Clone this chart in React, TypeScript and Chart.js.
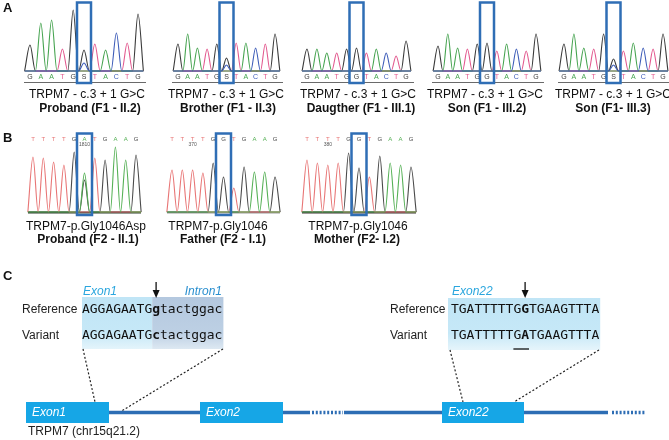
import React, { useEffect, useRef } from "react";
import { Chart, registerables } from "chart.js";
Chart.register(...registerables);

// ---------------- DATA ----------------
// Panel A: Sanger traces around TRPM7 c.3+1 G>C (S = G/C heterozygous)
const A_BASES = ["GAATGSTACTG", "GAATGSTACTG", "GAATGGTACTG", "GAATGGTACTG", "GAATGSTACTG"];
const A_PEAKS = [
  [26, 48, 51, 22, 61, 21, 27, 21, 38, 28, 57],
  [27, 37, 23, 22, 27, 13, 28, 28, 23, 27, 37],
  [22, 22, 18, 18, 22, 23, 18, 22, 18, 15, 30],
  [25, 37, 23, 22, 27, 28, 20, 27, 22, 20, 37],
  [27, 37, 23, 22, 37, 12, 20, 28, 23, 22, 37],
];
const A_SECOND_PEAK = [8, 6, 0, 0, 6]; // C component under the boxed S
const A_TITLES = ["TRPM7 - c.3 + 1 G>C", "TRPM7 - c.3 + 1 G>C", "TRPM7 - c.3 + 1 G>C", "TRPM7 - c.3 + 1 G>C", "TRPM7 - c.3 + 1 G>C"];
const A_NAMES = ["Proband (F1 - II.2)", "Brother (F1 - II.3)", "Daugther (F1 - III.1)", "Son (F1 - III.2)", "Son (F1- III.3)"];
const A_BOXED = [5, 5, 5, 5, 5];

// Panel B: TRPM7 p.Gly1046Asp (R = A/G heterozygous)
const B_BASES = ["TTTTGRTGAAG", "TTTTGGTGAAG", "TTTTGGTGAAG"];
const B_LETTERS = ["TTTTGATGAAG", "TTTTGGTGAAG", "TTTTGGTGAAG"];
const B_PEAKS = [
  [55, 54, 50, 47, 60, 39, 54, 52, 65, 52, 57],
  [42, 42, 42, 39, 49, 35, 24, 45, 40, 40, 35],
  [52, 49, 47, 49, 59, 44, 35, 56, 49, 47, 45],
];
const B_SECOND_PEAK = [32, 0, 0]; // G component under the boxed R
const B_POSITION_LABELS = ["1810", "370", "380"];
const B_POSITION_INDEX = [5, 2, 2];
const B_TITLES = ["TRPM7-p.Gly1046Asp", "TRPM7-p.Gly1046", "TRPM7-p.Gly1046"];
const B_NAMES = ["Proband (F2 - II.1)", "Father (F2 - I.1)", "Mother (F2- I.2)"];
const B_BOXED = [5, 5, 5];

// Panel C: sequences and gene model
const SEQ1_REF = "AGGAGAATGgtactggac";
const SEQ1_VAR = "AGGAGAATGctactggac";
const SEQ1_EXON_LEN = 9;
const SEQ2_REF = "TGATTTTTGGTGAAGTTTA";
const SEQ2_VAR = "TGATTTTTGATGAAGTTTA";
const MUT_INDEX = 9;
const EXON_NAMES = ["Exon1", "Exon2", "Exon22"];
const GENE_LABEL = "TRPM7 (chr15q21.2)";

// ---------------- LAYOUT / STYLE ----------------
const W = 669, H = 440;
const SANS = '"Liberation Sans", Arial, sans-serif';
const MONO = '"DejaVu Sans Mono", monospace';
const A_LAYOUT = [
  { x0: 30, step: 10.8, title: 87, name: 90 },
  { x0: 178, step: 9.7, title: 226, name: 228 },
  { x0: 307, step: 9.9, title: 358, name: 361 },
  { x0: 438, step: 9.8, title: 485, name: 487 },
  { x0: 564, step: 9.9, title: 613, name: 613 },
];
const A_BASE_Y = 71;
const B_LAYOUT = [
  { x0: 33, step: 10.3, title: 86, name: 88, base: "#2c3d2c" },
  { x0: 172, step: 10.3, title: 218, name: 223, base: "#9a9a9a" },
  { x0: 307, step: 10.4, title: 358, name: 357, base: "#3a3030" },
];
const B_BASE_Y = 212;
const A_COLORS: Record<string, string> = { G: "#3a3a3a", A: "#45a34f", T: "#e2588e", C: "#3d5cb8", S: "#3a3a3a" };
const B_COLORS: Record<string, string> = { G: "#4a4a4a", A: "#55b055", T: "#e87575", C: "#3d5cb8", R: "#55b055" };
const BOX_BLUE = "#2f6eb5";
const PRIMARY: Record<string, string> = { S: "G", R: "A" };
const SECONDARY: Record<string, string> = { S: "C", R: "G" };

function traceDatasets(bases: string, peaks: number[], second: number, x0: number, step: number, baseY: number, colors: Record<string, string>) {
  const n = bases.length;
  const chans: Record<string, number[]> = { A: [], C: [], G: [], T: [] };
  for (const c of Object.keys(chans)) for (let i = 0; i < n; i++) chans[c][i] = 0;
  for (let i = 0; i < n; i++) {
    const b = bases[i];
    const p = PRIMARY[b] || b;
    chans[p][i] = peaks[i];
    if (SECONDARY[b] && second > 0) chans[SECONDARY[b]][i] = second;
  }
  const out: any[] = [];
  for (const c of ["C", "A", "T", "G"]) {
    if (!chans[c].some((v) => v > 0)) continue;
    const data: { x: number; y: number }[] = [];
    for (let k = -1; k <= 2 * n - 1; k++) {
      const pos = k / 2;
      const h = k % 2 === 0 && k >= 0 ? chans[c][pos] : 0;
      data.push({ x: x0 + pos * step, y: baseY - h });
    }
    out.push({
      data,
      borderColor: colors[c],
      borderWidth: 1.1,
      pointRadius: 0,
      fill: false,
      cubicInterpolationMode: "monotone",
    });
  }
  return out;
}

function buildDatasets() {
  const ds: any[] = [];
  A_BASES.forEach((b, i) => {
    const L = A_LAYOUT[i];
    ds.push(...traceDatasets(b, A_PEAKS[i], A_SECOND_PEAK[i], L.x0, L.step, A_BASE_Y, A_COLORS));
  });
  B_BASES.forEach((b, i) => {
    const L = B_LAYOUT[i];
    ds.push(...traceDatasets(b, B_PEAKS[i], B_SECOND_PEAK[i], L.x0, L.step, B_BASE_Y, B_COLORS));
  });
  return ds;
}

const decorPlugin = {
  id: "decor",
  beforeDatasetsDraw(chart: any) {
    const ctx = chart.ctx as CanvasRenderingContext2D;
    const X = (v: number) => chart.scales.x.getPixelForValue(v);
    const Y = (v: number) => chart.scales.y.getPixelForValue(v);
    ctx.save();
    // sequence backgrounds
    const cw = 7.8;
    const s1 = 82, s2 = 451;
    const g1 = ctx.createLinearGradient(0, Y(297), 0, Y(349));
    g1.addColorStop(0, "#c0e5f6");
    g1.addColorStop(0.7, "#c6e8f7");
    g1.addColorStop(1, "#e4f4fb");
    ctx.fillStyle = g1;
    ctx.fillRect(X(s1), Y(297), X(s1 + SEQ1_EXON_LEN * cw) - X(s1), Y(349) - Y(297));
    const g2 = ctx.createLinearGradient(0, Y(297), 0, Y(349));
    g2.addColorStop(0, "#b4c8df");
    g2.addColorStop(0.7, "#bdd0e4");
    g2.addColorStop(1, "#dde8f2");
    ctx.fillStyle = g2;
    ctx.fillRect(X(s1 + SEQ1_EXON_LEN * cw), Y(297), X(s1 + SEQ1_REF.length * cw + 1) - X(s1 + SEQ1_EXON_LEN * cw), Y(349) - Y(297));
    ctx.fillStyle = g1;
    ctx.fillRect(X(s2 - 3), Y(298), X(s2 + SEQ2_REF.length * cw + 1) - X(s2 - 3), Y(350) - Y(298));
    // baselines under A traces
    ctx.strokeStyle = "#6a6a6a";
    ctx.lineWidth = 1;
    A_LAYOUT.forEach((L, i) => {
      const n = A_BASES[i].length;
      ctx.beginPath();
      ctx.moveTo(X(L.x0 - 6), Y(82.5));
      ctx.lineTo(X(L.x0 + (n - 1) * L.step + 8), Y(82.5));
      ctx.stroke();
    });
    // baselines under B traces
    ctx.lineWidth = 2;
    B_LAYOUT.forEach((L, i) => {
      const n = B_BASES[i].length;
      ctx.strokeStyle = L.base;
      ctx.beginPath();
      ctx.moveTo(X(L.x0 - 5), Y(B_BASE_Y + 0.5));
      ctx.lineTo(X(L.x0 + (n - 1) * L.step + 5), Y(B_BASE_Y + 0.5));
      ctx.stroke();
    });
    ctx.restore();
  },
  afterDatasetsDraw(chart: any) {
    const ctx = chart.ctx as CanvasRenderingContext2D;
    const X = (v: number) => chart.scales.x.getPixelForValue(v);
    const Y = (v: number) => chart.scales.y.getPixelForValue(v);
    const text = (s: string, x: number, y: number, font: string, color: string, align: CanvasTextAlign = "left") => {
      ctx.font = font;
      ctx.fillStyle = color;
      ctx.textAlign = align;
      ctx.textBaseline = "middle";
      ctx.fillText(s, X(x), Y(y));
    };
    ctx.save();
    // panel letters
    text("A", 3, 8, `bold 13px ${SANS}`, "#111");
    text("B", 3, 138, `bold 13px ${SANS}`, "#111");
    text("C", 3, 276, `bold 13px ${SANS}`, "#111");

    // Panel A letters, boxes, captions
    A_LAYOUT.forEach((L, i) => {
      const b = A_BASES[i];
      for (let k = 0; k < b.length; k++) {
        text(b[k], L.x0 + k * L.step, 77.5, `7px ${SANS}`, A_COLORS[b[k]], "center");
      }
      const cx = L.x0 + A_BOXED[i] * L.step;
      ctx.strokeStyle = BOX_BLUE;
      ctx.lineWidth = 2.5;
      ctx.strokeRect(X(cx - 7), Y(2.5), X(cx + 7) - X(cx - 7), Y(83) - Y(2.5));
      text(A_TITLES[i], L.title, 95, `12px ${SANS}`, "#111", "center");
      text(A_NAMES[i], L.name, 109, `bold 12px ${SANS}`, "#111", "center");
    });

    // Panel B letters, boxes, captions
    B_LAYOUT.forEach((L, i) => {
      const b = B_LETTERS[i];
      for (let k = 0; k < b.length; k++) {
        const x = L.x0 + k * L.step;
        text(b[k], x, 139.5, `6px ${SANS}`, B_COLORS[b[k]], "center");
      }
      text(B_POSITION_LABELS[i], L.x0 + B_POSITION_INDEX[i] * L.step, 144.5, `5px ${SANS}`, "#555", "center");
      const cx = L.x0 + B_BOXED[i] * L.step;
      ctx.strokeStyle = BOX_BLUE;
      ctx.lineWidth = 2.5;
      ctx.strokeRect(X(cx - 7.5), Y(133.5), X(cx + 7.5) - X(cx - 7.5), Y(215) - Y(133.5));
      text(B_TITLES[i], L.title, 227, `12px ${SANS}`, "#111", "center");
      text(B_NAMES[i], L.name, 240, `bold 12px ${SANS}`, "#111", "center");
    });

    // Panel C sequences
    const cw = 7.8;
    const drawSeq = (seq: string, x0: number, y: number) => {
      for (let k = 0; k < seq.length; k++) {
        const bold = k === MUT_INDEX;
        text(seq[k], x0 + k * cw + cw / 2, y, `${bold ? "bold " : ""}13px ${MONO}`, "#111", "center");
      }
    };
    text("Reference", 22, 309.5, `12px ${SANS}`, "#222");
    text("Variant", 22, 335.5, `12px ${SANS}`, "#222");
    drawSeq(SEQ1_REF, 82, 309.5);
    drawSeq(SEQ1_VAR, 82, 335.5);
    text("Reference", 390, 309.5, `12px ${SANS}`, "#222");
    text("Variant", 390, 335.5, `12px ${SANS}`, "#222");
    drawSeq(SEQ2_REF, 451, 309.5);
    drawSeq(SEQ2_VAR, 451, 335.5);
    text("Exon1", 83, 292, `italic 12px ${SANS}`, "#2aa6de");
    text("Intron1", 222, 292, `italic 12px ${SANS}`, "#2a8fcf", "right");
    text("Exon22", 452, 292, `italic 12px ${SANS}`, "#2aa6de");
    // underline in variant 2
    ctx.strokeStyle = "#111";
    ctx.lineWidth = 1.3;
    ctx.beginPath();
    ctx.moveTo(X(451 + 8 * cw), Y(349));
    ctx.lineTo(X(451 + 10 * cw), Y(349));
    ctx.stroke();
    // arrows
    const arrow = (x: number) => {
      ctx.strokeStyle = "#111";
      ctx.fillStyle = "#111";
      ctx.lineWidth = 1.3;
      ctx.beginPath();
      ctx.moveTo(X(x), Y(282));
      ctx.lineTo(X(x), Y(292));
      ctx.stroke();
      ctx.beginPath();
      ctx.moveTo(X(x - 3.5), Y(290));
      ctx.lineTo(X(x + 3.5), Y(290));
      ctx.lineTo(X(x), Y(298));
      ctx.closePath();
      ctx.fill();
    };
    arrow(82 + MUT_INDEX * cw + cw / 2);
    arrow(451 + MUT_INDEX * cw + cw / 2);

    // dotted connectors
    ctx.strokeStyle = "#222";
    ctx.lineWidth = 1.2;
    ctx.setLineDash([2, 2]);
    const seg = (a: number, b: number, c: number, d: number) => {
      ctx.beginPath();
      ctx.moveTo(X(a), Y(b));
      ctx.lineTo(X(c), Y(d));
      ctx.stroke();
    };
    seg(83, 349, 95, 402);
    seg(223, 349, 120, 412);
    seg(450, 350, 463, 402);
    seg(599, 350, 514, 402);
    ctx.setLineDash([]);

    // gene model
    ctx.strokeStyle = "#2d6db4";
    ctx.lineWidth = 3.5;
    seg(109, 412.5, 310, 412.5);
    seg(344, 412.5, 442, 412.5);
    seg(524, 412.5, 608, 412.5);
    ctx.setLineDash([2, 1.8]);
    seg(312, 412.5, 343, 412.5);
    seg(612, 412.5, 645, 412.5);
    ctx.setLineDash([]);
    const exons = [
      [26, 109],
      [200, 283],
      [442, 524],
    ];
    exons.forEach(([a, b], i) => {
      ctx.fillStyle = "#16a6e6";
      ctx.fillRect(X(a), Y(402), X(b) - X(a), Y(423) - Y(402));
      text(EXON_NAMES[i], a + 6, 413, `italic 12px ${SANS}`, "#ffffff");
    });
    text(GENE_LABEL, 28, 431.5, `12px ${SANS}`, "#222");
    ctx.restore();
  },
};

export default function App() {
  const ref = useRef<HTMLCanvasElement | null>(null);
  useEffect(() => {
    if (!ref.current) return;
    const chart = new Chart(ref.current, {
      type: "line",
      data: { datasets: buildDatasets() },
      options: {
        animation: false,
        responsive: false,
        devicePixelRatio: 1,
        maintainAspectRatio: false,
        layout: { padding: 0 },
        plugins: { legend: { display: false }, tooltip: { enabled: false } },
        scales: {
          x: { type: "linear", min: 0, max: W, display: false },
          y: { type: "linear", min: 0, max: H, reverse: true, display: false },
        },
      } as any,
      plugins: [decorPlugin],
    });
    return () => chart.destroy();
  }, []);
  return (
    <div style={{ position: "fixed", left: 0, top: 0, width: W, height: H, background: "#fff" }}>
      <canvas ref={ref} width={W} height={H} style={{ display: "block", width: W, height: H }} />
    </div>
  );
}
